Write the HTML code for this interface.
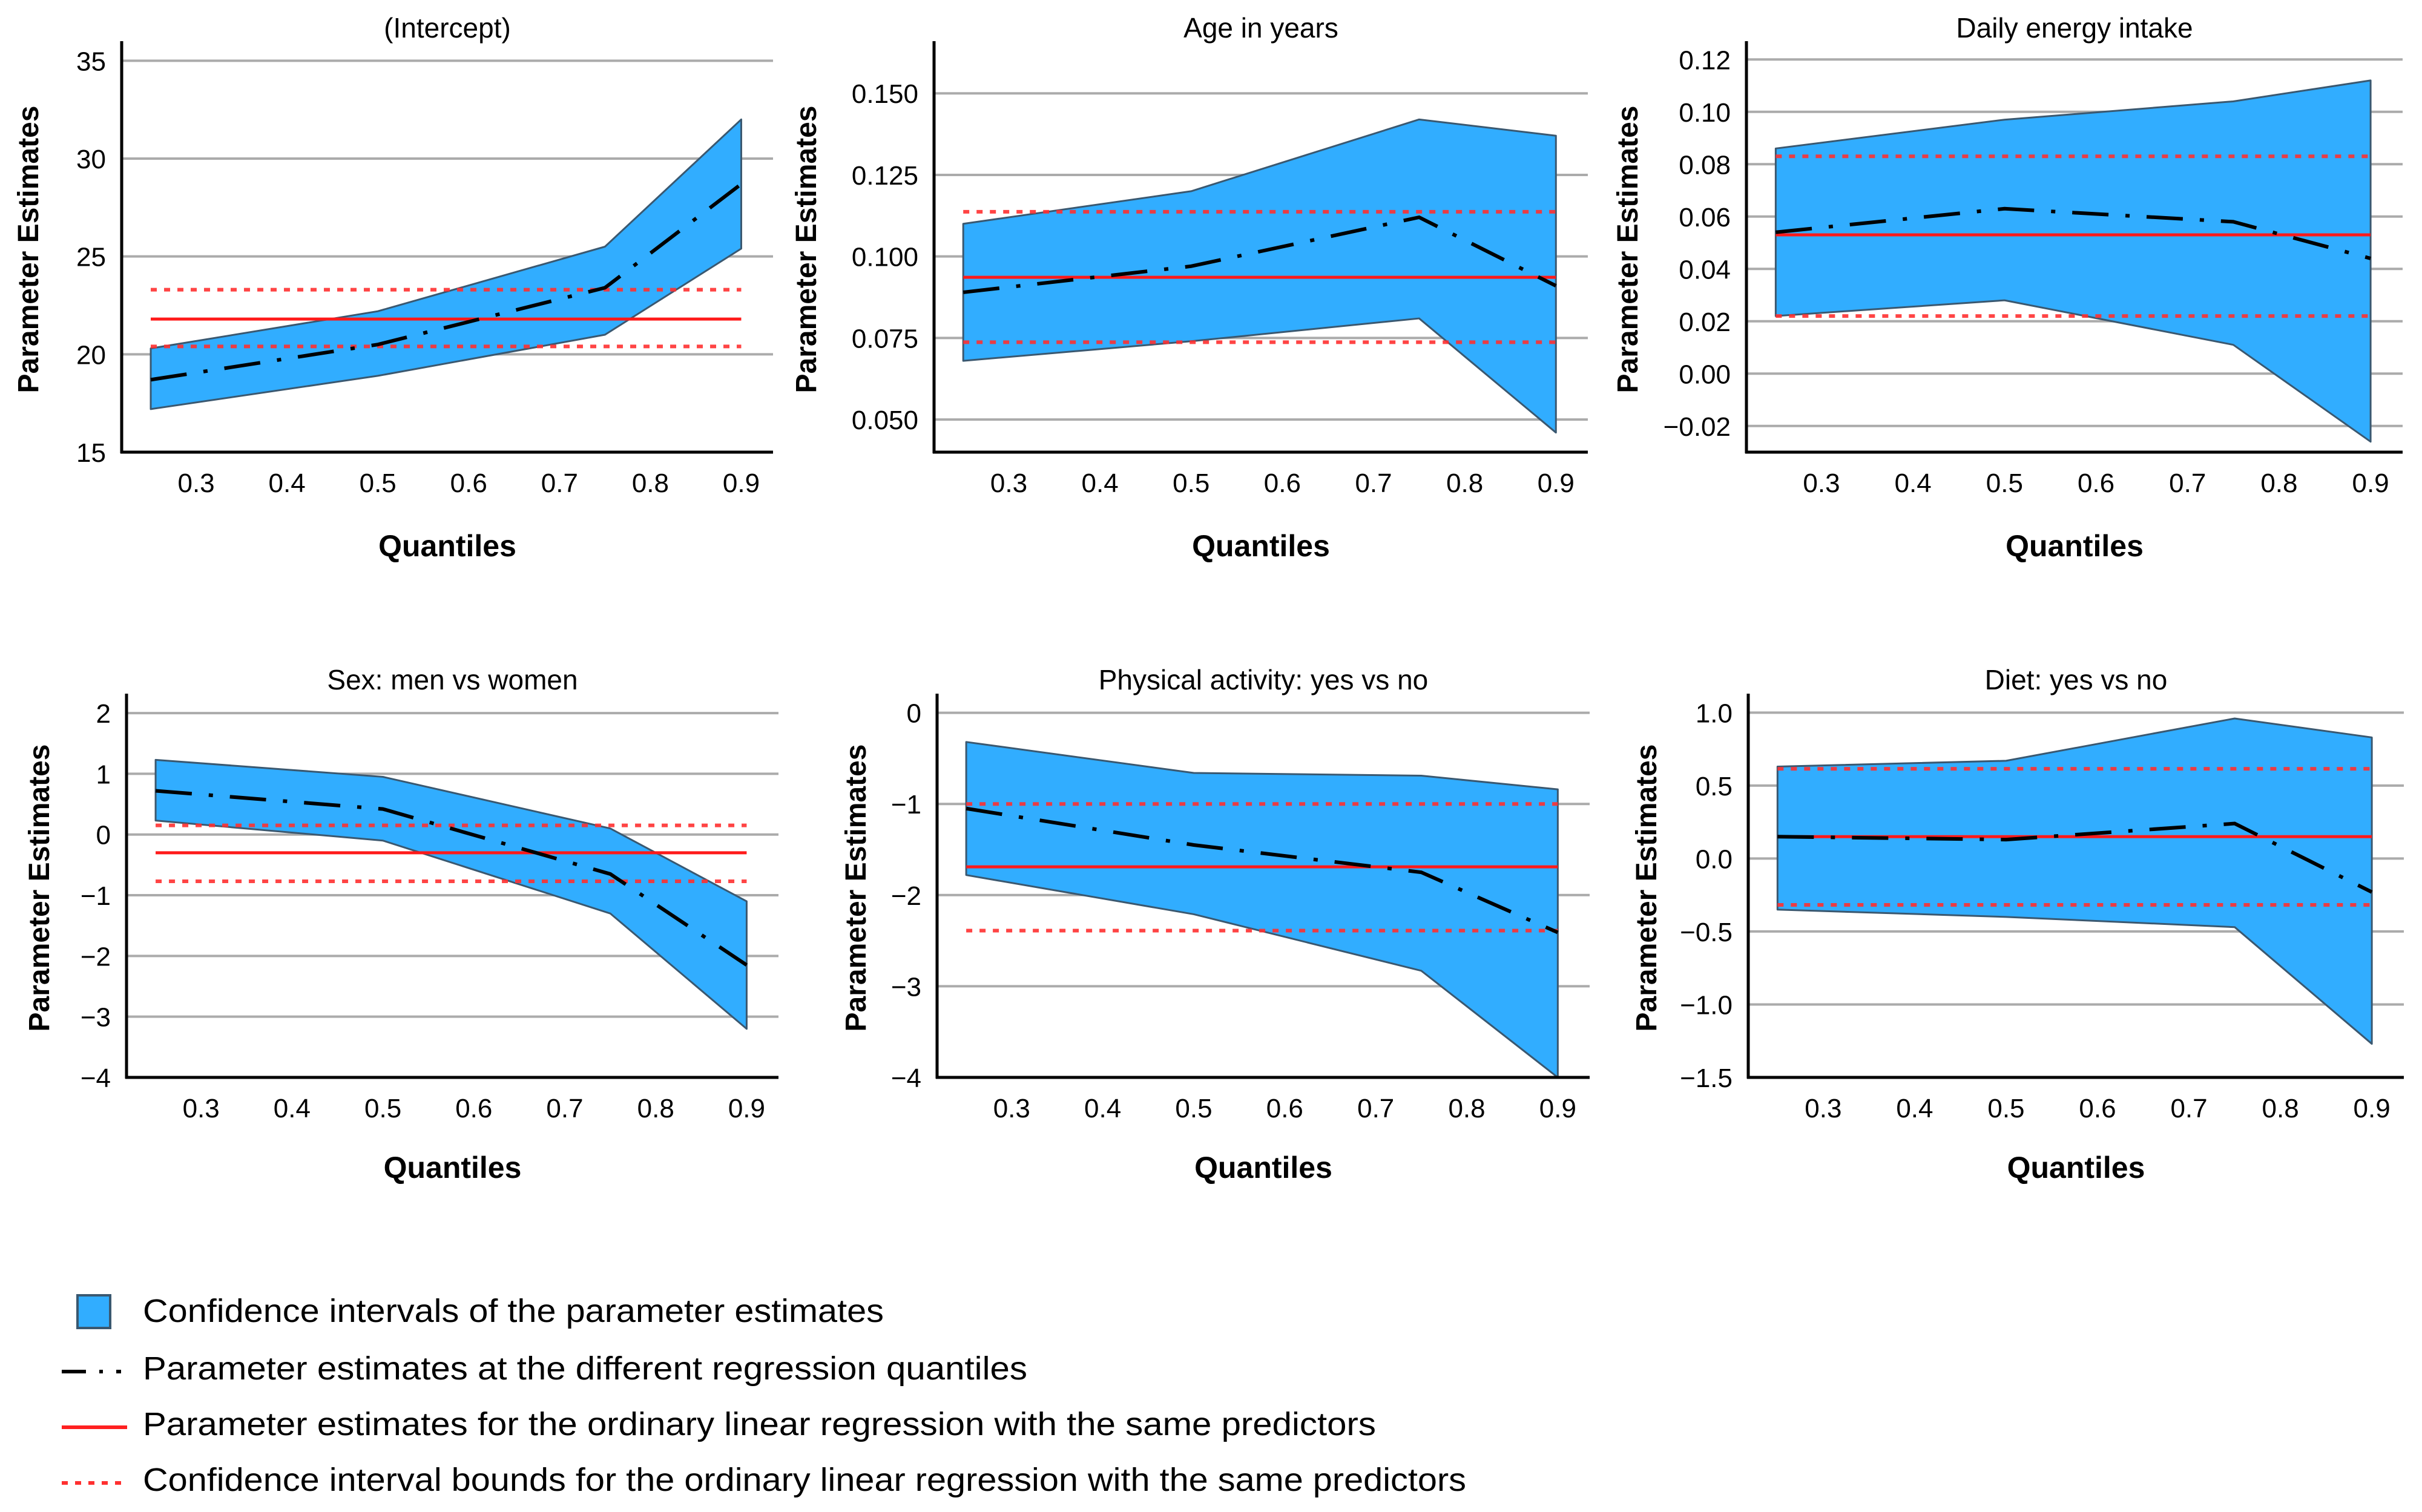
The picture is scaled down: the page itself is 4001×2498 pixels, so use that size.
<!DOCTYPE html>
<html><head><meta charset="utf-8"><style>
html,body{margin:0;padding:0;background:#fff;}
svg{display:block;font-family:"Liberation Sans",Arial,sans-serif;}
</style></head><body>
<svg id="chart" width="4001" height="2498" viewBox="0 0 4001 2498" xmlns="http://www.w3.org/2000/svg">
<rect x="0" y="0" width="4001" height="2498" fill="#fff"/>
<g id="panels"></g>
<g>
  <rect x="128" y="2140" width="54" height="54" fill="#31adff" stroke="#3a5870" stroke-width="4"/>
  <text x="236" y="2184" font-size="54" textLength="1224" lengthAdjust="spacingAndGlyphs">Confidence intervals of the parameter estimates</text>
  <line x1="102" y1="2266" x2="200" y2="2266" stroke="#000" stroke-width="6" stroke-dasharray="40,22,6,22"/>
  <text x="236" y="2279" font-size="54" textLength="1461" lengthAdjust="spacingAndGlyphs">Parameter estimates at the different regression quantiles</text>
  <line x1="102" y1="2358" x2="210" y2="2358" stroke="#ff2020" stroke-width="6"/>
  <text x="236" y="2371" font-size="54" textLength="2037" lengthAdjust="spacingAndGlyphs">Parameter estimates for the ordinary linear regression with the same predictors</text>
  <line x1="102" y1="2450" x2="210" y2="2450" stroke="#ff3030" stroke-width="6" stroke-dasharray="10,12"/>
  <text x="236" y="2463" font-size="54" textLength="2186" lengthAdjust="spacingAndGlyphs">Confidence interval bounds for the ordinary linear regression with the same predictors</text>
</g>
</svg>
<script>
// Shared data
const quantiles = [0.25, 0.5, 0.75, 0.9];
const xTicks = [0.3, 0.4, 0.5, 0.6, 0.7, 0.8, 0.9];
const xTickLabels = ["0.3","0.4","0.5","0.6","0.7","0.8","0.9"];
const panelTitles = ["(Intercept)", "Age in years", "Daily energy intake", "Sex: men vs women", "Physical activity: yes vs no", "Diet: yes vs no"];

// (Intercept)
const interceptUpper = [20.3, 22.2, 25.5, 32.0];
const interceptLower = [17.2, 18.9, 21.0, 25.4];
const interceptEst = [18.7, 20.5, 23.4, 28.7];
const interceptOls = [21.8, 20.4, 23.3];
const interceptTicks = [15, 20, 25, 30, 35];
const interceptTickLabels = ["15","20","25","30","35"];
// Age
const ageUpper = [0.110, 0.120, 0.142, 0.137];
const ageLower = [0.068, 0.074, 0.081, 0.046];
const ageEst = [0.089, 0.097, 0.112, 0.091];
const ageOls = [0.0936, 0.0737, 0.1137];
const ageTicks = [0.050, 0.075, 0.100, 0.125, 0.150];
const ageTickLabels = ["0.050","0.075","0.100","0.125","0.150"];
// Energy
const energyUpper = [0.086, 0.097, 0.104, 0.112];
const energyLower = [0.022, 0.028, 0.011, -0.026];
const energyEst = [0.054, 0.063, 0.058, 0.044];
const energyOls = [0.053, 0.022, 0.083];
const energyTicks = [-0.02, 0, 0.02, 0.04, 0.06, 0.08, 0.10, 0.12];
const energyTickLabels = ["\u22120.02","0.00","0.02","0.04","0.06","0.08","0.10","0.12"];
// Sex
const sexUpper = [1.23, 0.95, 0.10, -1.10];
const sexLower = [0.23, -0.10, -1.30, -3.20];
const sexEst = [0.72, 0.42, -0.65, -2.15];
const sexOls = [-0.30, -0.77, 0.15];
const sexTicks = [-4, -3, -2, -1, 0, 1, 2];
const sexTickLabels = ["\u22124","\u22123","\u22122","\u22121","0","1","2"];
// Physical activity
const paUpper = [-0.32, -0.66, -0.69, -0.84];
const paLower = [-1.78, -2.21, -2.83, -4.0];
const paEst = [-1.05, -1.45, -1.75, -2.41];
const paOls = [-1.69, -2.39, -1.0];
const paTicks = [-4, -3, -2, -1, 0];
const paTickLabels = ["\u22124","\u22123","\u22122","\u22121","0"];
// Diet
const dietUpper = [0.63, 0.67, 0.96, 0.83];
const dietLower = [-0.35, -0.40, -0.47, -1.27];
const dietEst = [0.15, 0.13, 0.24, -0.23];
const dietOls = [0.15, -0.318, 0.615];
const dietTicks = [-1.5, -1.0, -0.5, 0.0, 0.5, 1.0];
const dietTickLabels = ["\u22121.5","\u22121.0","\u22120.5","0.0","0.5","1.0"];

const NS = "http://www.w3.org/2000/svg";
const panelsG = document.getElementById("panels");
const X_MIN = 0.218, X_MAX = 0.935;

const layouts = [
  {key:"intercept", l:201, r:1277, t:68, b:747, yMin:15, yMax:36, ylx:46, yly:412, row:0},
  {key:"age", l:1543, r:2623, t:68, b:747, yMin:0.040, yMax:0.166, ylx:1331, yly:412, row:0},
  {key:"energy", l:2885, r:3969, t:68, b:747, yMin:-0.030, yMax:0.127, ylx:2688, yly:412, row:0},
  {key:"sex", l:209, r:1286, t:1146, b:1780, yMin:-4, yMax:2.32, ylx:64, yly:1467, row:1},
  {key:"pa", l:1548, r:2626, t:1146, b:1780, yMin:-4, yMax:0.21, ylx:1413, yly:1467, row:1},
  {key:"diet", l:2888, r:3971, t:1146, b:1780, yMin:-1.5, yMax:1.13, ylx:2719, yly:1467, row:1}
];
const series = [
  [interceptUpper, interceptLower, interceptEst, interceptOls, interceptTicks, interceptTickLabels],
  [ageUpper, ageLower, ageEst, ageOls, ageTicks, ageTickLabels],
  [energyUpper, energyLower, energyEst, energyOls, energyTicks, energyTickLabels],
  [sexUpper, sexLower, sexEst, sexOls, sexTicks, sexTickLabels],
  [paUpper, paLower, paEst, paOls, paTicks, paTickLabels],
  [dietUpper, dietLower, dietEst, dietOls, dietTicks, dietTickLabels]
];

function mk(tag, attrs, parent){
  const e = document.createElementNS(NS, tag);
  for (const k in attrs) e.setAttribute(k, attrs[k]);
  parent.appendChild(e);
  return e;
}

layouts.forEach((L, i) => {
  const [up, lo, est, ols, ticks, tickLabels] = series[i];
  const xs = q => L.l + (q - X_MIN) / (X_MAX - X_MIN) * (L.r - L.l);
  const ys = v => L.b - (v - L.yMin) / (L.yMax - L.yMin) * (L.b - L.t);
  const g = mk("g", {}, panelsG);
  
  

  const tickBase = L.row === 0 ? 813 : 1846;
  const qBase = L.row === 0 ? 919 : 1946;
  const titleBase = L.row === 0 ? 62 : 1139;

  ticks.forEach((tv, j) => {
    const y = ys(tv);
    if (Math.abs(y - L.b) > 3) {
      const gl = mk("line", {x1:L.l, x2:L.r, y1:y, y2:y, stroke:"#ababab", "stroke-width":4}, g);
      
      
    }
    const t = mk("text", {x:L.l - 26, y:y + 16, "font-size":44, "text-anchor":"end", fill:"#000"}, g);
    t.textContent = tickLabels[j];
    
    
  });

  const pts = quantiles.map((q, k) => xs(q) + "," + ys(up[k]))
    .concat(quantiles.slice().reverse().map((q, k) => xs(q) + "," + ys(lo[quantiles.length - 1 - k])));
  const band = mk("polygon", {points:pts.join(" "), fill:"#31adff", stroke:"#3a5870", "stroke-width":3, "stroke-linejoin":"round"}, g);
  
  

  const x0 = xs(quantiles[0]), x1 = xs(quantiles[quantiles.length - 1]);
  [ols[1], ols[2]].forEach(v => {
    const dl = mk("line", {x1:x0, x2:x1, y1:ys(v), y2:ys(v), stroke:"#ff3030", "stroke-width":6, "stroke-dasharray":"10,12", opacity:0.9}, g);
    
    
  });
  const ol = mk("line", {x1:x0, x2:x1, y1:ys(ols[0]), y2:ys(ols[0]), stroke:"#ff1a1a", "stroke-width":5}, g);
  
  
  const ep = mk("polyline", {points:quantiles.map((q, k) => xs(q) + "," + ys(est[k])).join(" "), fill:"none", stroke:"#000", "stroke-width":6, "stroke-dasharray":"60,28,7,28"}, g);
  
  

  const ya = mk("line", {x1:L.l, x2:L.l, y1:L.t, y2:L.b + 2, stroke:"#000", "stroke-width":5}, g);
  
  
  const xa = mk("line", {x1:L.l - 2, x2:L.r, y1:L.b, y2:L.b, stroke:"#000", "stroke-width":5}, g);
  
  

  xTicks.forEach((tv, j) => {
    const t = mk("text", {x:xs(tv), y:tickBase, "font-size":44, "text-anchor":"middle", fill:"#000"}, g);
    t.textContent = xTickLabels[j];
    
    
  });
  const xt = mk("text", {x:(L.l + L.r) / 2, y:qBase, "font-size":50, "font-weight":"bold", "text-anchor":"middle"}, g);
  xt.textContent = "Quantiles";
  
  
  const yt = mk("text", {x:0, y:0, "font-size":48, "font-weight":"bold", "text-anchor":"middle", transform:"translate(" + (L.ylx + 17) + "," + L.yly + ") rotate(-90)"}, g);
  yt.textContent = "Parameter Estimates";
  
  
  const pt = mk("text", {x:(L.l + L.r) / 2, y:titleBase, "font-size":46, "text-anchor":"middle"}, g);
  pt.textContent = panelTitles[i];
  
  
});
</script>
</body></html>
